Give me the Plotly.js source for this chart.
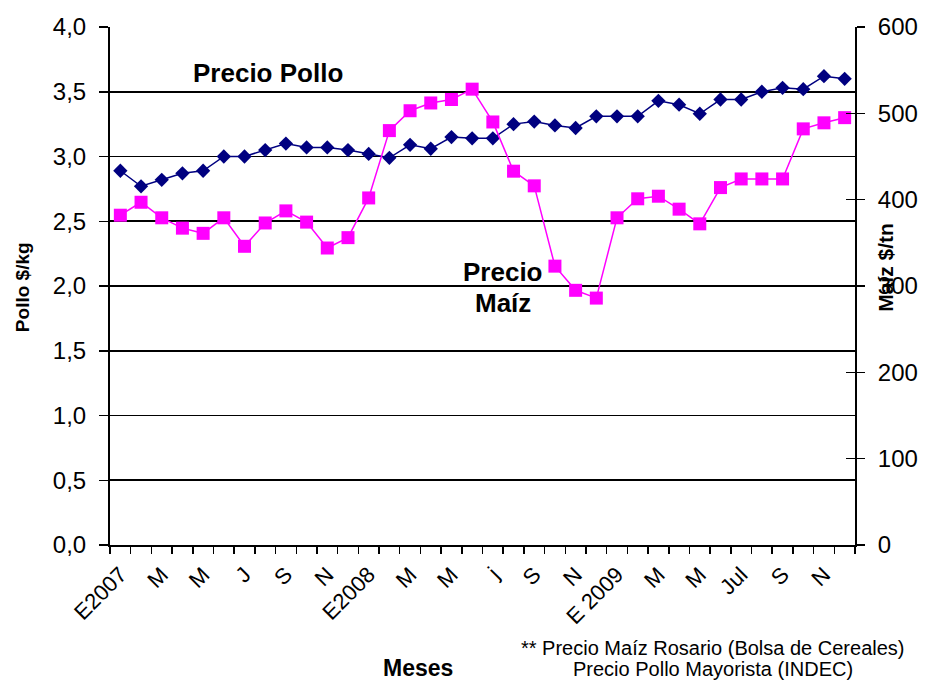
<!DOCTYPE html>
<html>
<head>
<meta charset="utf-8">
<script src="https://cdn.plot.ly/plotly-3.0.1.min.js"></script>
<style>html,body{margin:0;padding:0;background:#fff;}#chart{width:927px;height:683px;}</style>
</head>
<body>
<div id="chart"></div>
<script>
// Months Jan 2007 .. Dec 2009 (36 months)
const months = [
  '2007-01','2007-02','2007-03','2007-04','2007-05','2007-06','2007-07','2007-08','2007-09','2007-10','2007-11','2007-12',
  '2008-01','2008-02','2008-03','2008-04','2008-05','2008-06','2008-07','2008-08','2008-09','2008-10','2008-11','2008-12',
  '2009-01','2009-02','2009-03','2009-04','2009-05','2009-06','2009-07','2009-08','2009-09','2009-10','2009-11','2009-12'
];
// Tick labels shown every second month
const tickLabels = ['E2007','M','M','J','S','N','E2008','M','M','j','S','N','E 2009','M','M','Jul','S','N'];

// Precio Pollo ($/kg) - left axis
const precioPollo = [
  2.89, 2.77, 2.82, 2.87, 2.89, 3.00, 3.00, 3.05, 3.10, 3.07, 3.07, 3.05,
  3.02, 2.99, 3.09, 3.06, 3.15, 3.14, 3.14, 3.25, 3.27, 3.24, 3.22, 3.31,
  3.31, 3.31, 3.43, 3.40, 3.33, 3.44, 3.44, 3.50, 3.53, 3.52, 3.62, 3.60
];
// Precio Maíz ($/tn) - right axis
const precioMaiz = [
  382, 397, 379, 367, 361, 379, 346, 373, 387, 374, 344, 356,
  402, 480, 503, 512, 516, 528, 490, 433, 416, 323, 295, 286,
  379, 401, 404, 389, 372, 414, 424, 424, 424, 482, 489, 495
];

const xIdx = months.map((m, i) => i);
const tickIdx = tickLabels.map((t, i) => i * 2);

const FONT = 'Liberation Sans, Arial, sans-serif';

const traces = [
  {
    x: xIdx, y: precioMaiz, yaxis: 'y2', type: 'scatter', mode: 'lines+markers',
    name: 'Precio Maíz',
    line: {color: '#FF00FF', width: 1.5},
    marker: {symbol: 'square', size: 13, color: '#FF00FF'},
    hoverinfo: 'skip'
  },
  {
    x: xIdx, y: precioPollo, yaxis: 'y', type: 'scatter', mode: 'lines+markers',
    name: 'Precio Pollo',
    line: {color: '#000080', width: 1.5},
    marker: {symbol: 'diamond', size: 11, color: '#000080'},
    hoverinfo: 'skip'
  },
  // empty trace that activates the inner tick marks of the right axis
  {x: [], y: [], yaxis: 'y3', type: 'scatter', hoverinfo: 'skip', showlegend: false}
];

const layout = {
  width: 927, height: 683,
  margin: {l: 110, r: 72, t: 27, b: 138},
  paper_bgcolor: '#fff', plot_bgcolor: '#fff',
  showlegend: false,
  separators: ',.',
  font: {family: FONT, color: '#000'},
  xaxis: {
    range: [-0.5, 35.5],
    tickmode: 'array', tickvals: tickIdx, ticktext: tickLabels,
    tickangle: -45, ticks: '', tickfont: {size: 22, family: FONT},
    ticklabelstandoff: 6,
    showline: true, linecolor: '#000', linewidth: 2,
    showgrid: false, zeroline: false,
    minor: {tickmode: 'linear', tick0: -0.5, dtick: 1, ticks: 'outside', ticklen: 7, tickwidth: 1.5, tickcolor: '#000', showgrid: false}
  },
  yaxis: {
    range: [0, 4], dtick: 0.5, tick0: 0, tickformat: '.1f',
    ticks: 'outside', ticklen: 9, tickwidth: 1.5, tickcolor: '#000',
    ticklabelstandoff: 8,
    tickfont: {size: 24, family: FONT},
    showline: true, linecolor: '#000', linewidth: 2,
    showgrid: true, gridcolor: '#000', gridwidth: 1.6,
    zeroline: false
  },
  yaxis2: {
    range: [0, 600], dtick: 100, tick0: 0, tickformat: 'd',
    overlaying: 'y', side: 'right',
    ticks: 'outside', ticklen: 8, tickwidth: 1.5, tickcolor: '#000',
    ticklabelstandoff: 8,
    tickfont: {size: 24, family: FONT},
    showline: true, linecolor: '#000', linewidth: 2,
    showgrid: false, zeroline: false
  },
  yaxis3: {
    range: [0, 600], dtick: 100, tick0: 0,
    overlaying: 'y', side: 'right',
    ticks: 'inside', ticklen: 9, tickwidth: 1.5, tickcolor: '#000',
    showticklabels: false, showline: false, showgrid: false, zeroline: false
  },
  annotations: [
    {text: 'Precio Pollo', xref: 'paper', yref: 'paper', x: 0.212, y: 0.911, showarrow: false,
     font: {size: 26, family: FONT, weight: 'bold'}, xanchor: 'center', yanchor: 'middle'},
    {text: 'Precio', xref: 'paper', yref: 'paper', x: 0.528, y: 0.527, showarrow: false,
     font: {size: 26, family: FONT, weight: 'bold'}, xanchor: 'center', yanchor: 'middle'},
    {text: 'Maíz', xref: 'paper', yref: 'paper', x: 0.527, y: 0.467, showarrow: false,
     font: {size: 26, family: FONT, weight: 'bold'}, xanchor: 'center', yanchor: 'middle'},
    {text: 'Pollo $/kg', xref: 'paper', yref: 'paper', x: -0.118, y: 0.498, showarrow: false, textangle: -90,
     font: {size: 19, family: FONT, weight: 'bold'}, xanchor: 'center', yanchor: 'middle'},
    {text: 'Maíz $/tn', xref: 'paper', yref: 'paper', x: 1.0416, y: 0.537, showarrow: false, textangle: -90,
     font: {size: 21, family: FONT, weight: 'bold'}, xanchor: 'center', yanchor: 'middle'},
    {text: 'Meses', xref: 'paper', yref: 'paper', x: (418 - 110) / 745, y: (545 - 668) / 518, showarrow: false,
     font: {size: 23, family: FONT, weight: 'bold'}, xanchor: 'center', yanchor: 'middle'},
    {text: '** Precio Maíz Rosario (Bolsa de Cereales)', xref: 'paper', yref: 'paper', x: (713 - 110) / 745, y: (545 - 648) / 518, showarrow: false,
     font: {size: 20, family: FONT}, xanchor: 'center', yanchor: 'middle'},
    {text: 'Precio Pollo Mayorista (INDEC)', xref: 'paper', yref: 'paper', x: (713 - 110) / 745, y: (545 - 669) / 518, showarrow: false,
     font: {size: 20, family: FONT}, xanchor: 'center', yanchor: 'middle'}
  ]
};

Plotly.newPlot('chart', traces, layout, {displayModeBar: false, staticPlot: true});
</script>
</body>
</html>
